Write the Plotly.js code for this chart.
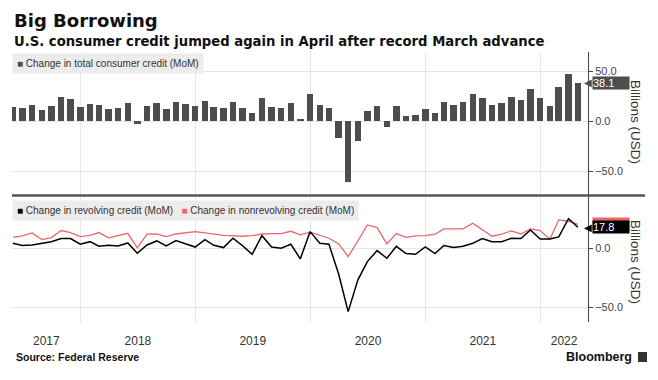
<!DOCTYPE html>
<html><head><meta charset="utf-8">
<script src="https://cdn.plot.ly/plotly-3.0.1.min.js"></script>
<style>html,body{margin:0;padding:0;background:#fff}#chart{width:658px;height:380px}</style>
</head><body><div id="chart"></div>
<script>
const months = [
 '2017-05','2017-06','2017-07','2017-08','2017-09','2017-10','2017-11','2017-12',
 '2018-01','2018-02','2018-03','2018-04','2018-05','2018-06','2018-07','2018-08','2018-09','2018-10','2018-11','2018-12',
 '2019-01','2019-02','2019-03','2019-04','2019-05','2019-06','2019-07','2019-08','2019-09','2019-10','2019-11','2019-12',
 '2020-01','2020-02','2020-03','2020-04','2020-05','2020-06','2020-07','2020-08','2020-09','2020-10','2020-11','2020-12',
 '2021-01','2021-02','2021-03','2021-04','2021-05','2021-06','2021-07','2021-08','2021-09','2021-10','2021-11','2021-12',
 '2022-01','2022-02','2022-03','2022-04'];
const totalCredit = [
 14, 13, 16.3, 11.3, 14.7, 24.3, 22.3, 14,
 17.3, 15.7, 12, 13.3, 18.3, -3.3, 14.7, 18.3, 12.3, 19.3, 17, 14.7,
 20, 13.7, 12.7, 19.3, 13.3, 8, 23.3, 14.3, 12.7, 18, 2, 27.3,
 16, 12.7, -17.3, -61.3, -20, 10, 14.7, -5.7, 14.7, 4.7, 5.7, 12,
 8.3, 19, 16.3, 19, 27, 23, 16, 18.3, 23.7, 21.3, 32, 22.7,
 15.3, 34.3, 47.3, 38.1];
const revolving = [
 4.2, 2.3, 2.8, 4.2, 5.6, 8.2, 8.2, 3.4,
 5.6, 1.7, 2.5, 2, 4.5, -4.2, 2.8, 6.2, 2, 6.5, 3.7, 1,
 7.3, 2.5, 0.6, 8.5, 2, -5.1, 10.7, 1.1, 0, 3.4, -9, 14.1,
 4.2, 3.4, -22, -53.7, -26.8, -11.3, -2, -8.5, 1.6, -4.5, -5.1, 1.1,
 -4.5, 2.3, 0.6, 1.7, 4.2, 8.2, 5.6, 5.6, 8.5, 8.2, 15.5, 7.9,
 7.9, 9.6, 25.1, 17.8];
const nonrevolving = [
 9.3, 10.5, 13, 7.3, 9, 15, 13.3, 9.9,
 11, 13.3, 8.8, 10.5, 12.7, 0.3, 11.9, 12.1, 9.9, 12.1, 13, 14.1,
 13, 11.9, 11, 10.7, 10.2, 10.7, 12.1, 12.4, 12.4, 14.4, 11.3, 13.6,
 11.3, 8.5, 3.7, -7.1, 6.2, 19.8, 17.5, 3.7, 12.5, 9.3, 10.5, 10.7,
 11.9, 16.4, 16.4, 16.4, 21.2, 15.5, 10.2, 11.9, 14.7, 12.1, 16.4, 15,
 7.6, 24, 22.9, 20.3];
const yearLabels = ['2017','2018','2019','2020','2021','2022'];

const seriesNames = ['Change in total consumer credit (MoM)','Change in revolving credit (MoM)','Change in nonrevolving credit (MoM)'];
const barColor = '#4d4d4d', revColor = '#000000', nonrevColor = '#e8696b';
const FONT = 'Liberation Sans, Arial, sans-serif';
const HEAD = 'DejaVu Sans, sans-serif';

function monthEnd(m){
  const [y,mo] = m.split('-').map(Number);
  const d = new Date(Date.UTC(y, mo, 0));
  return d.toISOString().slice(0,10);
}
const dates = months.map(monthEnd);
const xRange = ['2017-05-28','2022-06-01'];
const t0 = Date.parse(xRange[0]), t1 = Date.parse(xRange[1]);
const yearStarts = yearLabels.slice(1).map(y => y + '-01-01');
const labelDates = yearLabels.map(y => {
  const a = Math.max(Date.parse(y+'-01-01'), t0);
  const b = Math.min(Date.parse((+y+1)+'-01-01'), t1);
  return new Date((a+b)/2).toISOString().slice(0,10);
});

const DAY = 86400000;
const traces = [
  {type:'bar', x:dates, y:totalCredit, name:seriesNames[0], xaxis:'x', yaxis:'y',
   marker:{color:barColor}, width:dates.map(()=>21*DAY), showlegend:false},
  {type:'scatter', mode:'lines', x:dates, y:nonrevolving, name:seriesNames[2], xaxis:'x2', yaxis:'y2',
   line:{color:nonrevColor, width:1.3}, showlegend:false},
  {type:'scatter', mode:'lines', x:dates, y:revolving, name:seriesNames[1], xaxis:'x2', yaxis:'y2',
   line:{color:revColor, width:1.5}, showlegend:false}
];

const M = {l:12, r:70, t:52, b:58}, W = 658, H = 380;
const pw = W - M.l - M.r, ph = H - M.t - M.b;
const px = v => (v - M.l) / pw;
const py = v => (H - M.b - v) / ph;

const gridColor = '#e6e6e6';
const yCommon = {side:'right', showline:true, linecolor:'#444', linewidth:1, ticks:'outside', ticklen:4,
  tickcolor:'#444', tickvals:[-50,0,50], tickformat:'.1f', showgrid:true, gridcolor:gridColor, zeroline:false,
  tickfont:{family:FONT, size:11, color:'#444'}, fixedrange:true};

const lastTotal = totalCredit[totalCredit.length-1];
const lastRev = revolving[revolving.length-1];
const lastNon = nonrevolving[nonrevolving.length-1];

const layout = {
  width:W, height:H, margin:M, paper_bgcolor:'#fff', plot_bgcolor:'#fff', showlegend:false,
  font:{family:FONT, color:'#333'}, bargap:0,
  xaxis:{type:'date', range:xRange, anchor:'y', domain:[0,1], showticklabels:false, ticks:'',
    tickmode:'array', tickvals:yearStarts, showgrid:true, gridcolor:gridColor, zeroline:false, fixedrange:true},
  xaxis2:{type:'date', range:xRange, anchor:'y2', domain:[0,1], ticks:'', tickmode:'array',
    tickvals:labelDates, ticktext:yearLabels, showgrid:false, zeroline:false, ticklabelstandoff:10,
    tickfont:{family:FONT, size:12, color:'#333'}, fixedrange:true,
    minor:{tickmode:'array', tickvals:yearStarts, showgrid:true, gridcolor:gridColor, ticks:''}},
  yaxis:Object.assign({}, yCommon, {domain:[py(195), 1], range:[-74, 69]}),
  yaxis2:Object.assign({}, yCommon, {domain:[0, py(196)], range:[-62.5, 44.3]}),
  shapes:[
    {type:'line', xref:'paper', yref:'paper', x0:px(12), x1:px(645), y0:py(195.5), y1:py(195.5),
     line:{color:'#555', width:2.5}},
    {type:'rect', xref:'paper', yref:'paper', x0:px(638), x1:px(647), y0:py(352), y1:py(362),
     fillcolor:'#333', line:{width:0}}
  ],
  annotations:[
    {text:'<b>Big Borrowing</b>', xref:'paper', yref:'paper', x:px(12), y:py(21), xanchor:'left', yanchor:'middle',
     showarrow:false, font:{family:HEAD, size:18, color:'#111'}},
    {text:'<b>U.S. consumer credit jumped again in April after record March advance</b>', xref:'paper', yref:'paper',
     x:px(12), y:py(41), xanchor:'left', yanchor:'middle', showarrow:false, font:{family:HEAD, size:13.2, color:'#111'}},
    {text:'<span style="color:'+barColor+'">■</span> '+seriesNames[0], xref:'paper', yref:'paper', x:px(12), y:py(53),
     xanchor:'left', yanchor:'top', showarrow:false, bgcolor:'#ececec', borderpad:4, font:{family:FONT, size:10, color:'#333'}},
    {text:'<span style="color:'+revColor+'">■</span> '+seriesNames[1]+'   <span style="color:'+nonrevColor+'">■</span> '+seriesNames[2],
     xref:'paper', yref:'paper', x:px(12), y:py(200), xanchor:'left', yanchor:'top', showarrow:false, bgcolor:'#ececec',
     borderpad:4, font:{family:FONT, size:10, color:'#333'}},
    {text:'Billions (USD)', xref:'paper', yref:'paper', x:px(636), y:py(122), textangle:90, showarrow:false,
     xanchor:'center', yanchor:'middle', font:{family:FONT, size:13.5, color:'#333'}},
    {text:'Billions (USD)', xref:'paper', yref:'paper', x:px(636), y:py(262), textangle:90, showarrow:false,
     xanchor:'center', yanchor:'middle', font:{family:FONT, size:13.5, color:'#333'}},
    {text:'◀', xref:'paper', yref:'y', x:px(594), y:lastTotal, xanchor:'right', yanchor:'middle', showarrow:false,
     font:{family:'DejaVu Sans', size:10, color:barColor}},
    {text:lastTotal.toFixed(1), xref:'paper', yref:'y', x:px(592), y:lastTotal, xanchor:'left', yanchor:'middle',
     showarrow:false, bgcolor:barColor, width:36, borderpad:0, height:12, font:{family:FONT, size:11, color:'#fff'}, align:'left'},
    {text:' ', xref:'paper', yref:'y2', x:px(594), y:lastNon, xanchor:'right', yanchor:'middle', showarrow:false,
     font:{family:'DejaVu Sans', size:10, color:nonrevColor}},
    {text:' ', xref:'paper', yref:'y2', x:px(592), y:lastNon, xanchor:'left', yanchor:'middle',
     showarrow:false, bgcolor:nonrevColor, width:36, borderpad:0, height:12, font:{family:FONT, size:11, color:nonrevColor}},
    {text:'◀', xref:'paper', yref:'y2', x:px(594), y:lastRev, xanchor:'right', yanchor:'middle', showarrow:false,
     font:{family:'DejaVu Sans', size:10, color:revColor}},
    {text:lastRev.toFixed(1), xref:'paper', yref:'y2', x:px(592), y:lastRev, xanchor:'left', yanchor:'middle',
     showarrow:false, bgcolor:revColor, width:36, borderpad:0, height:12, font:{family:FONT, size:11, color:'#fff'}, align:'left'},
    {text:'<b>Source: Federal Reserve</b>', xref:'paper', yref:'paper', x:px(14), y:py(357), xanchor:'left', yanchor:'middle',
     showarrow:false, font:{family:FONT, size:10.5, color:'#111'}},
    {text:'<b>Bloomberg</b>', xref:'paper', yref:'paper', x:px(634), y:py(357), xanchor:'right', yanchor:'middle',
     showarrow:false, font:{family:FONT, size:12.5, color:'#111'}}
  ]
};
Plotly.newPlot('chart', traces, layout, {displayModeBar:false, staticPlot:true});
</script></body></html>
